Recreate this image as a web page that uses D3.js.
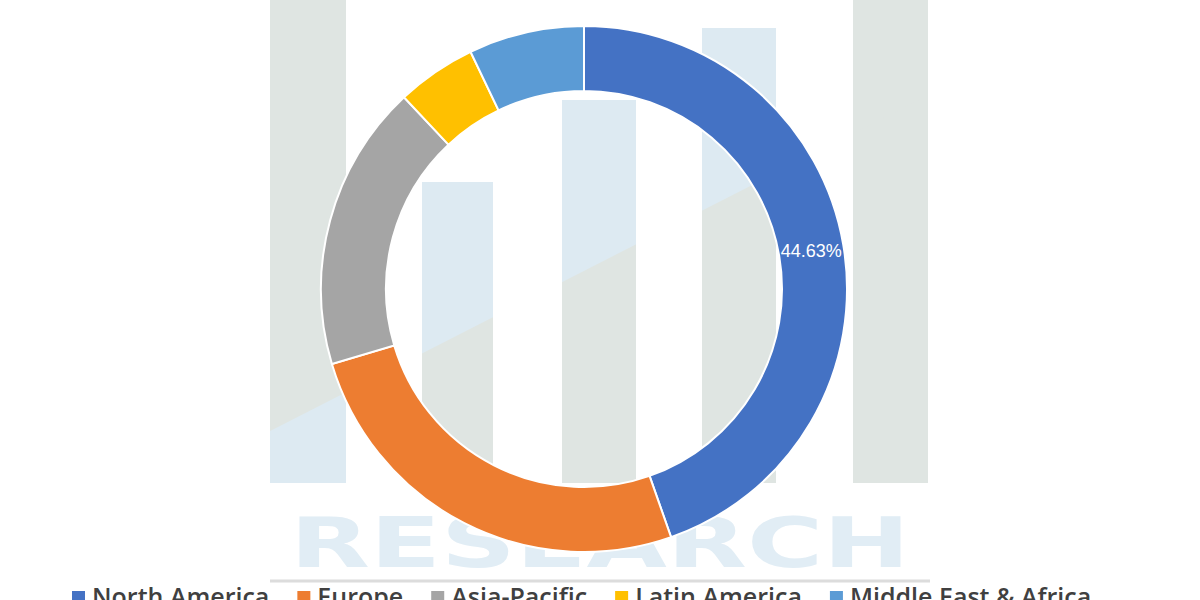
<!DOCTYPE html>
<html>
<head>
<meta charset="utf-8">
<script src="https://cdn.jsdelivr.net/npm/d3@7"></script>
<style>
  html, body { margin: 0; padding: 0; background: #ffffff; }
  svg { display: block; }
</style>
</head>
<body>
<svg id="chart" width="1200" height="600"></svg>
<script>
// ---- data ----
const regions = ["North America", "Europe", "Asia-Pacific", "Latin America", "Middle East & Africa"];
const shares = [44.63, 25.77, 17.6, 4.9, 7.1];
const colors = ["#4472c4", "#ed7d31", "#a5a5a5", "#ffc000", "#5b9bd5"];
const labelShown = [true, false, false, false, false];

// ---- watermark decoration ----
const wmGray = "#dfe5e2", wmBlue = "#ddeaf2";
const wmBars = [
  { x0: 270, x1: 346, top: 0,   upper: wmGray, lower: wmBlue },
  { x0: 422, x1: 493, top: 182, upper: wmBlue, lower: wmGray },
  { x0: 562, x1: 636, top: 100, upper: wmBlue, lower: wmGray },
  { x0: 702, x1: 776, top: 28,  upper: wmBlue, lower: wmGray },
  { x0: 853, x1: 928, top: 0,   upper: wmGray, lower: wmGray }
];
const wmBottom = 483;

const svg = d3.select("#chart");

// watermark: diagonal split
const defs = svg.append("defs");
defs.append("clipPath").attr("id", "below")
  .append("polygon")
  .attr("points", [[0, 430 + 0.51 * 272], [1200, 430 - 0.51 * (1200 - 272)], [1200, 600], [0, 600]].map(p => p.join(",")).join(" "));

const wm = svg.append("g");
wm.selectAll("rect.up").data(wmBars).join("rect")
  .attr("x", d => d.x0).attr("y", d => d.top)
  .attr("width", d => d.x1 - d.x0).attr("height", d => wmBottom - d.top)
  .attr("fill", d => d.upper);
wm.append("g").attr("clip-path", "url(#below)")
  .selectAll("rect").data(wmBars).join("rect")
  .attr("x", d => d.x0).attr("y", d => d.top)
  .attr("width", d => d.x1 - d.x0).attr("height", d => wmBottom - d.top)
  .attr("fill", d => d.lower);

wm.append("text")
  .attr("x", 290).attr("y", 567)
  .attr("textLength", 620).attr("lengthAdjust", "spacingAndGlyphs")
  .attr("font-family", "DejaVu Sans")
  .attr("font-weight", "bold")
  .attr("font-size", 69)
  .attr("fill", "#e1edf5")
  .text("RESEARCH");

wm.append("line")
  .attr("x1", 270).attr("x2", 930).attr("y1", 581).attr("y2", 581)
  .attr("stroke", "#dcdcdc").attr("stroke-width", 3);

// ---- donut ----
const cx = 584, cy = 289, rOuter = 263, rInner = 198;
const data = regions.map((r, i) => ({ region: r, value: shares[i], color: colors[i], showLabel: labelShown[i] }));
const pie = d3.pie().value(d => d.value).sort(null);
const arc = d3.arc().innerRadius(rInner).outerRadius(rOuter);
const arcs = pie(data);

const g = svg.append("g").attr("transform", `translate(${cx},${cy})`);
g.selectAll("path").data(arcs).join("path")
  .attr("d", arc)
  .attr("fill", d => d.data.color)
  .attr("stroke", "#ffffff")
  .attr("stroke-width", 2);

g.selectAll("text.lbl").data(arcs.filter(d => d.data.showLabel)).join("text")
  .attr("class", "lbl")
  .attr("transform", d => `translate(${arc.centroid(d)})`)
  .attr("text-anchor", "middle")
  .attr("dy", "0.35em")
  .attr("font-family", "Liberation Sans, Arial, sans-serif")
  .attr("font-size", 18)
  .attr("fill", "#ffffff")
  .text(d => d.data.value.toFixed(2) + "%");

// ---- legend ----
const legend = svg.append("g");
let lx = 72;
const baseY = 606;
data.forEach((d, i) => {
  legend.append("rect")
    .attr("x", lx).attr("y", 591).attr("width", 13).attr("height", 13)
    .attr("fill", d.color);
  const t = legend.append("text")
    .attr("x", lx + 20).attr("y", baseY)
    .attr("font-family", "Open Sans, sans-serif")
    .attr("font-size", 25)
    .attr("font-weight", 600)
    .attr("fill", "#404040")
    .text(d.region);
  const w = t.node().getComputedTextLength();
  lx = lx + 20 + w + 28;
});
</script>
</body>
</html>
